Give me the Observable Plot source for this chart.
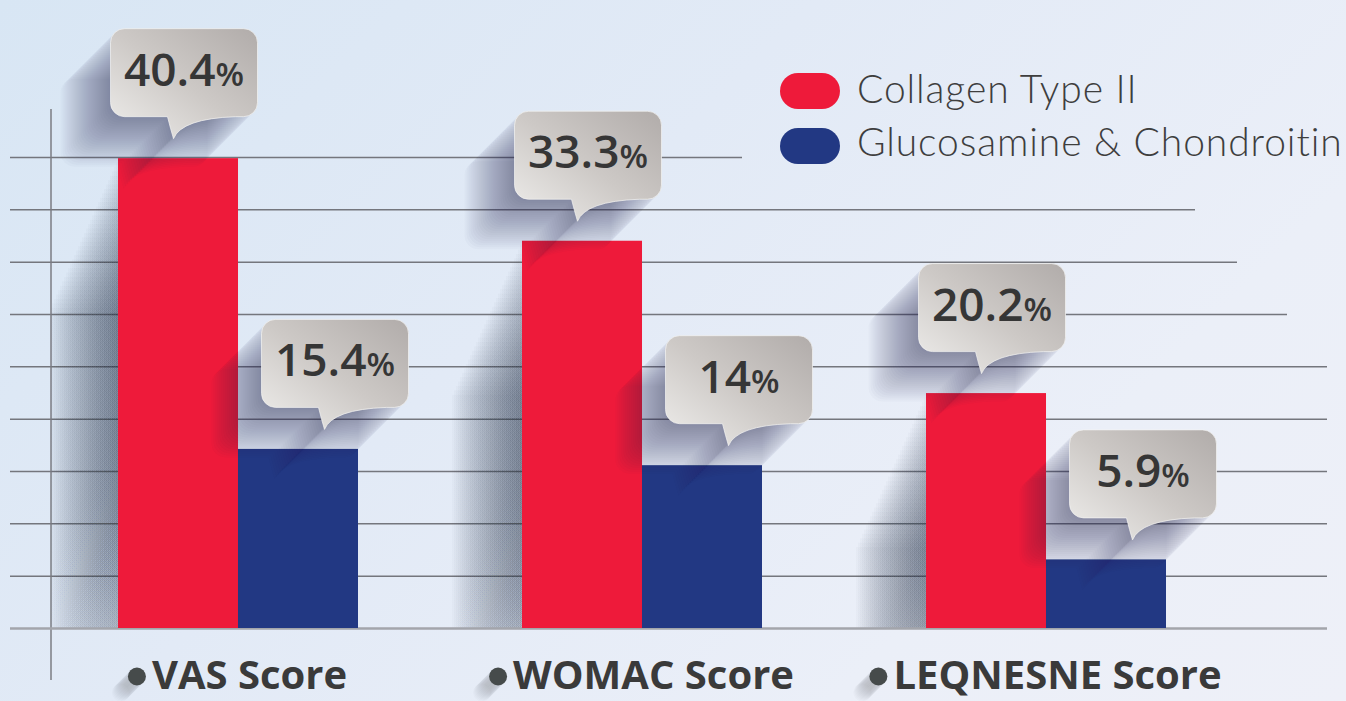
<!DOCTYPE html>
<html><head><meta charset="utf-8">
<script src="https://cdn.jsdelivr.net/npm/d3@7"></script>
<script src="https://cdn.jsdelivr.net/npm/@observablehq/plot@0.6"></script>
<style>
html,body{margin:0;padding:0;width:1346px;height:701px;overflow:hidden;}
body{position:relative;background:linear-gradient(135deg,#d8e6f4 0%,#e2eaf6 40%,#ebeff8 75%,#eef0f8 100%);}
#chart{position:absolute;left:0;top:0;}
.sw{position:absolute;left:780px;width:60px;height:36px;border-radius:18px;}
.lt{position:absolute;left:857px;white-space:nowrap;font-family:Lato,"Open Sans",sans-serif;font-weight:300;font-size:39px;letter-spacing:0.9px;color:#3e3e3e;line-height:39px;}
</style></head>
<body><div id="chart"></div><div id="legend"></div>
<script>
const categories = ["VAS Score", "WOMAC Score", "LEQNESNE Score"];
const seriesNames = ["Collagen Type II", "Glucosamine & Chondroitin"];
const collagen = [40.4, 33.3, 20.2];
const glucosamine = [15.4, 14, 5.9];
const gridValues = [0, 4.5, 9, 13.5, 18, 22.5, 27, 31.5, 36, 40.5];
const seriesColors = ["#ee1a3a", "#223883"];

const rows = categories.flatMap((c, i) => [
  {category: c, series: 0, value: collagen[i]},
  {category: c, series: 1, value: glucosamine[i]}
]);
const red = rows.filter(d => d.series === 0);
const blue = rows.filter(d => d.series === 1);

// layout constants
const W = 1346, H = 701;
const xRange = [118, 1166], padIn = 0.406;
const step = (xRange[1] - xRange[0]) / (categories.length - padIn);
const bw = step * (1 - padIn);
const half = bw / 2;

// bubble symbol (tail tip at origin)
const bubbleSymbol = {
  draw(ctx) {
    const L = -63, R = 84, T = -110, B = -22, r = 14;
    ctx.moveTo(0, 0);
    ctx.quadraticCurveTo(8, -20, 62, B);
    ctx.lineTo(R - r, B);
    ctx.arcTo(R, B, R, B - r, r);
    ctx.lineTo(R, T + r);
    ctx.arcTo(R, T, R - r, T, r);
    ctx.lineTo(L + r, T);
    ctx.arcTo(L, T, L, T + r, r);
    ctx.lineTo(L, B - r);
    ctx.arcTo(L, B, L + r, B, r);
    ctx.lineTo(-6, B);
    ctx.quadraticCurveTo(-3, -10, 0, 0);
    ctx.closePath();
  }
};

const tipDx = [-half - 8 + 63, 23 + 63]; // red, blue
const textDx = [-half - 8 + 73.5, 23 + 73.5];

const defsMark = () => {
  const defs = d3.create("svg:defs");
  const g = defs.append("linearGradient").attr("id", "bubbleGrad")
    .attr("x1", 0).attr("y1", 1).attr("x2", 1).attr("y2", 0);
  g.append("stop").attr("offset", "0%").attr("stop-color", "#efeeec");
  g.append("stop").attr("offset", "50%").attr("stop-color", "#cdc9c6");
  g.append("stop").attr("offset", "100%").attr("stop-color", "#b1acaa");
  const s = defs.append("linearGradient").attr("id", "barShadow")
    .attr("x1", 0).attr("y1", 0).attr("x2", 0).attr("y2", 1);
  s.append("stop").attr("offset", "0%").attr("stop-color", "#1d2a40").attr("stop-opacity", 1);
  s.append("stop").attr("offset", "55%").attr("stop-color", "#1d2a40").attr("stop-opacity", 0.9);
  s.append("stop").attr("offset", "100%").attr("stop-color", "#1d2a40").attr("stop-opacity", 0.15);
  return defs.node();
};

const axisLine = (index, scales, values, dim) => {
  const y = scales.y;
  return d3.create("svg:line")
    .attr("x1", dim.marginLeft).attr("x2", dim.marginLeft)
    .attr("y1", y(gridValues[gridValues.length - 1]) - 48)
    .attr("y2", y(0) + 52)
    .attr("stroke", "#7b7d83").attr("stroke-width", 1.5).node();
};

// grid line right insets (staggered ends)
const gridInset = v => v >= 40.5 ? 585 : v >= 36 ? 132 : v >= 31.5 ? 90 : v >= 27 ? 40 : 0;

// label text widths
const ctx2 = document.createElement("canvas").getContext("2d");
ctx2.font = "700 40px 'Open Sans'";
const tw = categories.map(c => ctx2.measureText(c).width);

const marks = [defsMark];
for (const inset of [585, 132, 90, 40, 0]) {
  const vals = gridValues.filter(v => v > 0 && gridInset(v) === inset);
  if (vals.length) marks.push(Plot.ruleY(vals, {insetLeft: -41, insetRight: inset, stroke: "#74767d", strokeWidth: 1.5}));
}
marks.push(axisLine);
// bar long shadows
for (const t of d3.range(2, 72, 2)) {
  marks.push(Plot.barY(red, {x: "category", y: "value", insetRight: half, dx: -t, dy: 2.2 * t, fill: "url(#barShadow)", fillOpacity: 0.024, clip: true}));
}
marks.push(Plot.ruleY([0], {insetLeft: -41, stroke: "#a3a5ab", strokeWidth: 2.5}));
marks.push(Plot.barY(red, {x: "category", y: "value", insetRight: half, fill: seriesColors[0]}));
marks.push(Plot.barY(blue, {x: "category", y: "value", insetLeft: half, fill: seriesColors[1]}));
// bubble shadows + bubbles
[red, blue].forEach((data, s) => {
  for (const t of d3.range(2, 52, 2)) {
    marks.push(Plot.dot(data, {x: "category", y: "value", symbol: bubbleSymbol, dx: tipDx[s] - t, dy: -20 + t, fill: "#1d2a40", fillOpacity: 0.022}));
  }
});
[red, blue].forEach((data, s) => {
  marks.push(Plot.dot(data, {x: "category", y: "value", symbol: bubbleSymbol, dx: tipDx[s], dy: -20, fill: "url(#bubbleGrad)", stroke: "#f4f3f2", strokeWidth: 1, strokeOpacity: 0.7}));
  marks.push(Plot.text(data, {x: "category", y: "value", text: d => d.value + "%", dx: textDx[s], dy: -73, lineAnchor: "bottom", textAnchor: "middle", fontFamily: "'Open Sans', sans-serif", fontWeight: 600, fontSize: 46, fill: "#363636"}));
});
// category labels with bullets
categories.forEach((c, i) => {
  const ddx = 11 - tw[i] / 2 - 15;
  for (const t of d3.range(1, 17, 1)) {
    marks.push(Plot.dot([c], {x: d => d, frameAnchor: "bottom", dx: ddx - t, dy: 48 + t, r: 9, fill: "#1d2a40", fillOpacity: 0.02, stroke: "none"}));
  }
  marks.push(Plot.dot([c], {x: d => d, frameAnchor: "bottom", dx: ddx, dy: 48, r: 9, fill: "#464b4b", stroke: "none"}));
});
marks.push(Plot.text(categories, {x: d => d, text: d => d, frameAnchor: "bottom", dx: 11, dy: 60, lineAnchor: "bottom", textAnchor: "middle", fontFamily: "'Open Sans', sans-serif", fontWeight: 700, fontSize: 40, fill: "#3a3a3a"}));

const plot = Plot.plot({
  width: W, height: H,
  marginLeft: 51, marginRight: 19, marginTop: 157, marginBottom: 73,
  style: {background: "transparent", overflow: "visible"},
  x: {type: "band", domain: categories, range: xRange, paddingInner: padIn, paddingOuter: 0, axis: null},
  y: {domain: [0, 40.5], axis: null},
  marks
});

// smaller percent sign inside the bubbles
plot.querySelectorAll("text").forEach(el => {
  const s = el.textContent;
  if (!s.endsWith("%") || el.children.length) return;
  el.textContent = s.slice(0, -1);
  const ts = document.createElementNS("http://www.w3.org/2000/svg", "tspan");
  ts.setAttribute("font-size", "33");
  ts.textContent = "%";
  el.appendChild(ts);
});
document.getElementById("chart").append(plot);

// legend
const leg = document.getElementById("legend");
const swTops = [73, 128];
const txtTops = [69, 122];
seriesNames.forEach((n, i) => {
  const sw = document.createElement("div");
  sw.className = "sw";
  sw.style.top = swTops[i] + "px";
  sw.style.background = seriesColors[i];
  const t = document.createElement("div");
  t.className = "lt";
  t.style.top = txtTops[i] + "px";
  t.textContent = n;
  leg.append(sw, t);
});
</script>
</body></html>
